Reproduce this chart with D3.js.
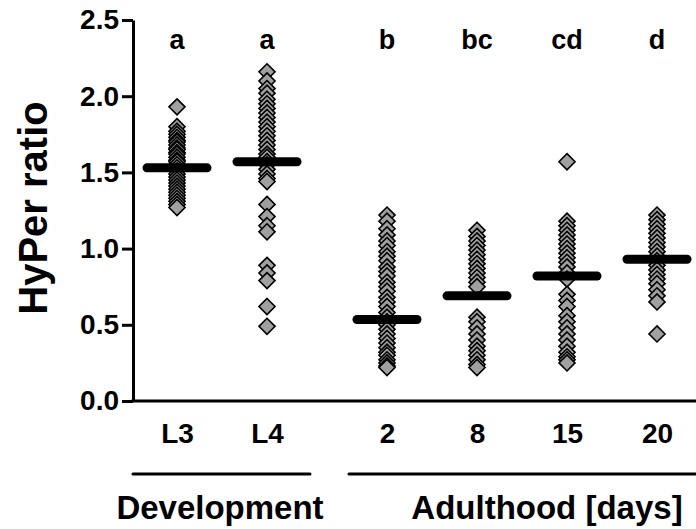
<!DOCTYPE html>
<html>
<head>
<meta charset="utf-8">
<script src="https://cdn.jsdelivr.net/npm/d3@7"></script>
<style>
  body { margin: 0; background: #fff; }
  svg { display: block; font-family: "Liberation Sans", Arial, sans-serif; font-weight: bold; }
</style>
</head>
<body>
<svg id="chart" width="696" height="529"></svg>
<script>
const devCats = ["L3", "L4"]
const adultCats = ["2", "8", "15", "20"]
const letters = ["a", "a", "b", "bc", "cd", "d"]
const means = [1.53, 1.57, 0.535, 0.69, 0.82, 0.93]
const yTicks = [0, 0.5, 1.0, 1.5, 2.0, 2.5]

// HyPer ratio of individual animals, per group
const valsL3 = [1.93, 1.80, 1.77, 1.75, 1.73, 1.71, 1.70, 1.68, 1.66, 1.65, 1.63, 1.62, 1.60, 1.58, 1.57,
    1.55, 1.53, 1.51, 1.49, 1.47, 1.45, 1.43, 1.41, 1.39, 1.37, 1.35, 1.33, 1.31, 1.29, 1.27]
const valsL4 = [2.16, 2.10, 2.05, 2.02, 1.98, 1.95, 1.92, 1.89, 1.86, 1.83, 1.80, 1.77, 1.74, 1.71, 1.68,
    1.65, 1.62, 1.60, 1.57, 1.55, 1.52, 1.49, 1.46, 1.44, 1.29, 1.21, 1.15, 1.11, 0.89, 0.84, 0.79, 0.62, 0.49]
const vals2 = [1.22, 1.18, 1.13, 1.09, 1.05, 1.02, 0.98, 0.95, 0.92, 0.88, 0.85, 0.82, 0.78, 0.75, 0.72,
    0.68, 0.65, 0.62, 0.58, 0.55, 0.52, 0.50, 0.47, 0.44, 0.41, 0.38, 0.35, 0.32, 0.30, 0.27, 0.25, 0.23, 0.22]
const vals8 = [1.12, 1.08, 1.05, 1.02, 0.99, 0.96, 0.93, 0.90, 0.87, 0.84, 0.81, 0.78, 0.75,
    0.55, 0.52, 0.48, 0.44, 0.40, 0.36, 0.33, 0.30, 0.27, 0.24, 0.22]
const vals15 = [1.57, 1.18, 1.15, 1.12, 1.09, 1.06, 1.03, 1.00, 0.97, 0.94, 0.91, 0.88, 0.84, 0.80,
    0.70, 0.66, 0.62, 0.56, 0.52, 0.48, 0.44, 0.40, 0.36, 0.32, 0.29, 0.27, 0.25]
const vals20 = [1.22, 1.19, 1.16, 1.13, 1.10, 1.07, 1.04, 1.01, 0.98, 0.95, 0.92, 0.89, 0.86, 0.83,
    0.80, 0.77, 0.73, 0.69, 0.65, 0.44]

const width = 696,
    height = 529,
    marginLeft = 133,
    axisY = 401,
    plotTop = 20

const allCats = devCats.concat(adultCats)
const allVals = [valsL3, valsL4, vals2, vals8, vals15, vals20]

const svg = d3.select("#chart")

const y = d3.scaleLinear()
    .domain([0, 2.5])
    .range([axisY, plotTop])

// two clusters of categories with a wider gap between them
const xDev = d3.scalePoint().domain(devCats).range([177, 267])
const xAdult = d3.scalePoint().domain(adultCats).range([387, 657])
const x = d3.scaleOrdinal()
    .domain(allCats)
    .range(devCats.map(xDev).concat(adultCats.map(xAdult)))

// y axis
const yAxis = svg.append("g")
    .attr("transform", `translate(${marginLeft},0)`)
    .call(d3.axisLeft(y)
        .tickValues(yTicks)
        .tickFormat(d3.format(".1f"))
        .tickSize(11)
        .tickSizeOuter(0)
        .tickPadding(3))
yAxis.selectAll("path, line").attr("stroke", "#000").attr("stroke-width", 3)
yAxis.selectAll("text")
    .attr("fill", "#000")
    .style("font-size", "28px")
    .style("font-weight", "bold")
    .style("font-family", "'Liberation Sans', Arial, sans-serif")

// x axis
const xAxis = svg.append("g")
    .attr("transform", `translate(0,${axisY})`)
    .call(d3.axisBottom(x).tickSize(0).tickPadding(22))
xAxis.select(".domain").remove()
xAxis.append("line")
    .attr("x1", marginLeft - 1.5).attr("x2", width)
    .attr("stroke", "#000").attr("stroke-width", 3)
xAxis.selectAll("text")
    .attr("fill", "#000")
    .style("font-size", "28px")
    .style("font-weight", "bold")
    .style("font-family", "'Liberation Sans', Arial, sans-serif")

// points
const diamond = d3.symbol().type(d3.symbolDiamond2).size(165)
allVals.forEach((vals, i) => {
    svg.append("g")
        .selectAll("path")
        .data(vals)
        .join("path")
        .attr("d", diamond)
        .attr("transform", d => `translate(${x(allCats[i])},${y(d)})`)
        .attr("fill", "#a0a0a0")
        .attr("stroke", "#000")
        .attr("stroke-width", 1.6)
})

// mean bars
svg.append("g")
    .selectAll("line")
    .data(means)
    .join("line")
    .attr("x1", (d, i) => x(allCats[i]) - 30)
    .attr("x2", (d, i) => x(allCats[i]) + 30)
    .attr("y1", d => y(d))
    .attr("y2", d => y(d))
    .attr("stroke", "#000")
    .attr("stroke-width", 9)
    .attr("stroke-linecap", "round")

// significance letters
svg.append("g")
    .selectAll("text")
    .data(letters)
    .join("text")
    .attr("x", (d, i) => x(allCats[i]))
    .attr("y", 49)
    .attr("text-anchor", "middle")
    .style("font-size", "27px")
    .text(d => d)

// group brackets
const brackets = [
    {label: "Development", x1: marginLeft, x2: 310, cx: 220},
    {label: "Adulthood [days]", x1: 349, x2: width, cx: 547}
]
brackets.forEach(b => {
    svg.append("line")
        .attr("x1", b.x1).attr("x2", b.x2)
        .attr("y1", 474).attr("y2", 474)
        .attr("stroke", "#000").attr("stroke-width", 3)
        .attr("stroke-linecap", "round")
    svg.append("text")
        .attr("x", b.cx).attr("y", 519)
        .attr("text-anchor", "middle")
        .style("font-size", "33px")
        .text(b.label)
})

// y title
svg.append("text")
    .attr("transform", "translate(47,208) rotate(-90)")
    .attr("text-anchor", "middle")
    .style("font-size", "40px")
    .text("HyPer ratio")
</script>
</body>
</html>
